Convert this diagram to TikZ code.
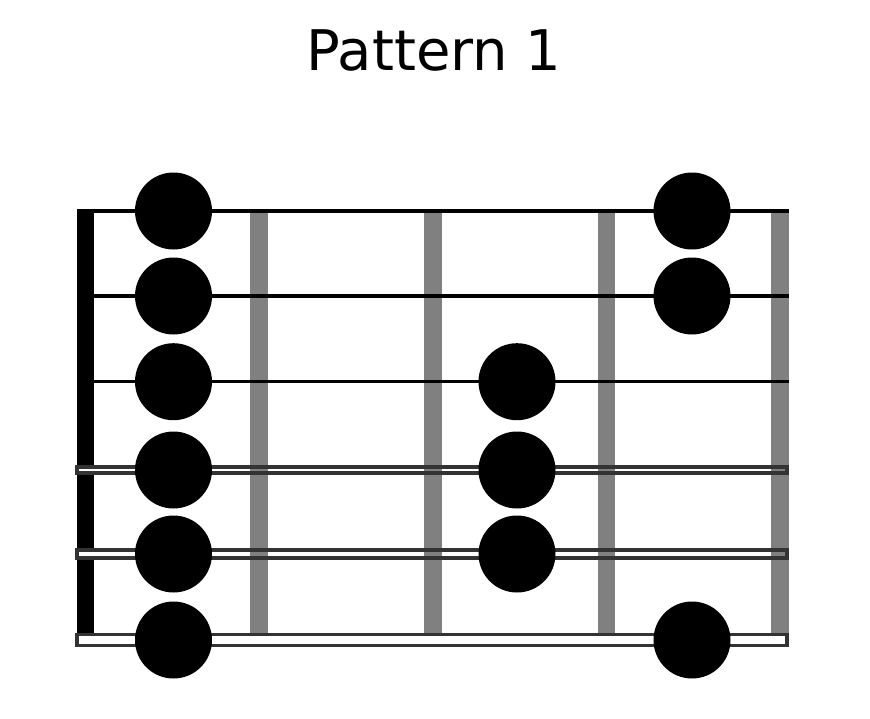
\documentclass[tikz,border=0pt]{standalone}
\usepackage{fontspec}
\setmainfont{DejaVu Sans}
\definecolor{fretgray}{HTML}{808080}
\definecolor{stringgray}{HTML}{333333}
\begin{document}
\begin{tikzpicture}[x=1pt,y=-1pt,
    plainstring/.style={line width=3.5pt,black},
    woundstring/.style={line width=3.8pt,draw=stringgray},
    fretbar/.style={fill=fretgray},
    dot/.style={circle,fill=black,inner sep=0pt,minimum size=77pt}]
    \useasboundingbox (0,0) rectangle (870,718);
    \node [anchor=base,font=\fontsize{56}{67}\selectfont] (title) at (434,70) {Pattern 1};
    % frets
    \foreach \x in {259,433,606.5,780}
        \fill [fretbar] (\x-8.75,212.7) rectangle (\x+8.75,633);
    % nut
    \fill [black] (77,209) rectangle (94,633);
    % strings 1-3
    \foreach \y in {211,296,381.7}
        \draw [plainstring] (77,\y) -- (789,\y);
    % strings 4-6
    \foreach \y/\h in {470/6.1,554/7.4,640/11}{
        \fill [white] (76.8,\y-\h/2) rectangle (94,\y+\h/2);
        \draw [woundstring] (76.8,\y-\h/2) rectangle (787.2,\y+\h/2);
    }
    % dots
    \node [dot] (s1a) at (173.5,211) {};
    \node [dot] (s1d) at (692,211) {};
    \node [dot] (s2a) at (173.5,296) {};
    \node [dot] (s2d) at (692,296) {};
    \node [dot] (s3a) at (173.5,381.7) {};
    \node [dot] (s3c) at (517,381.7) {};
    \node [dot] (s4a) at (173.5,470) {};
    \node [dot] (s4c) at (517,470) {};
    \node [dot] (s5a) at (173.5,554) {};
    \node [dot] (s5c) at (517,554) {};
    \node [dot] (s6a) at (173.5,640) {};
    \node [dot] (s6d) at (692,640) {};
\end{tikzpicture}
\end{document}
